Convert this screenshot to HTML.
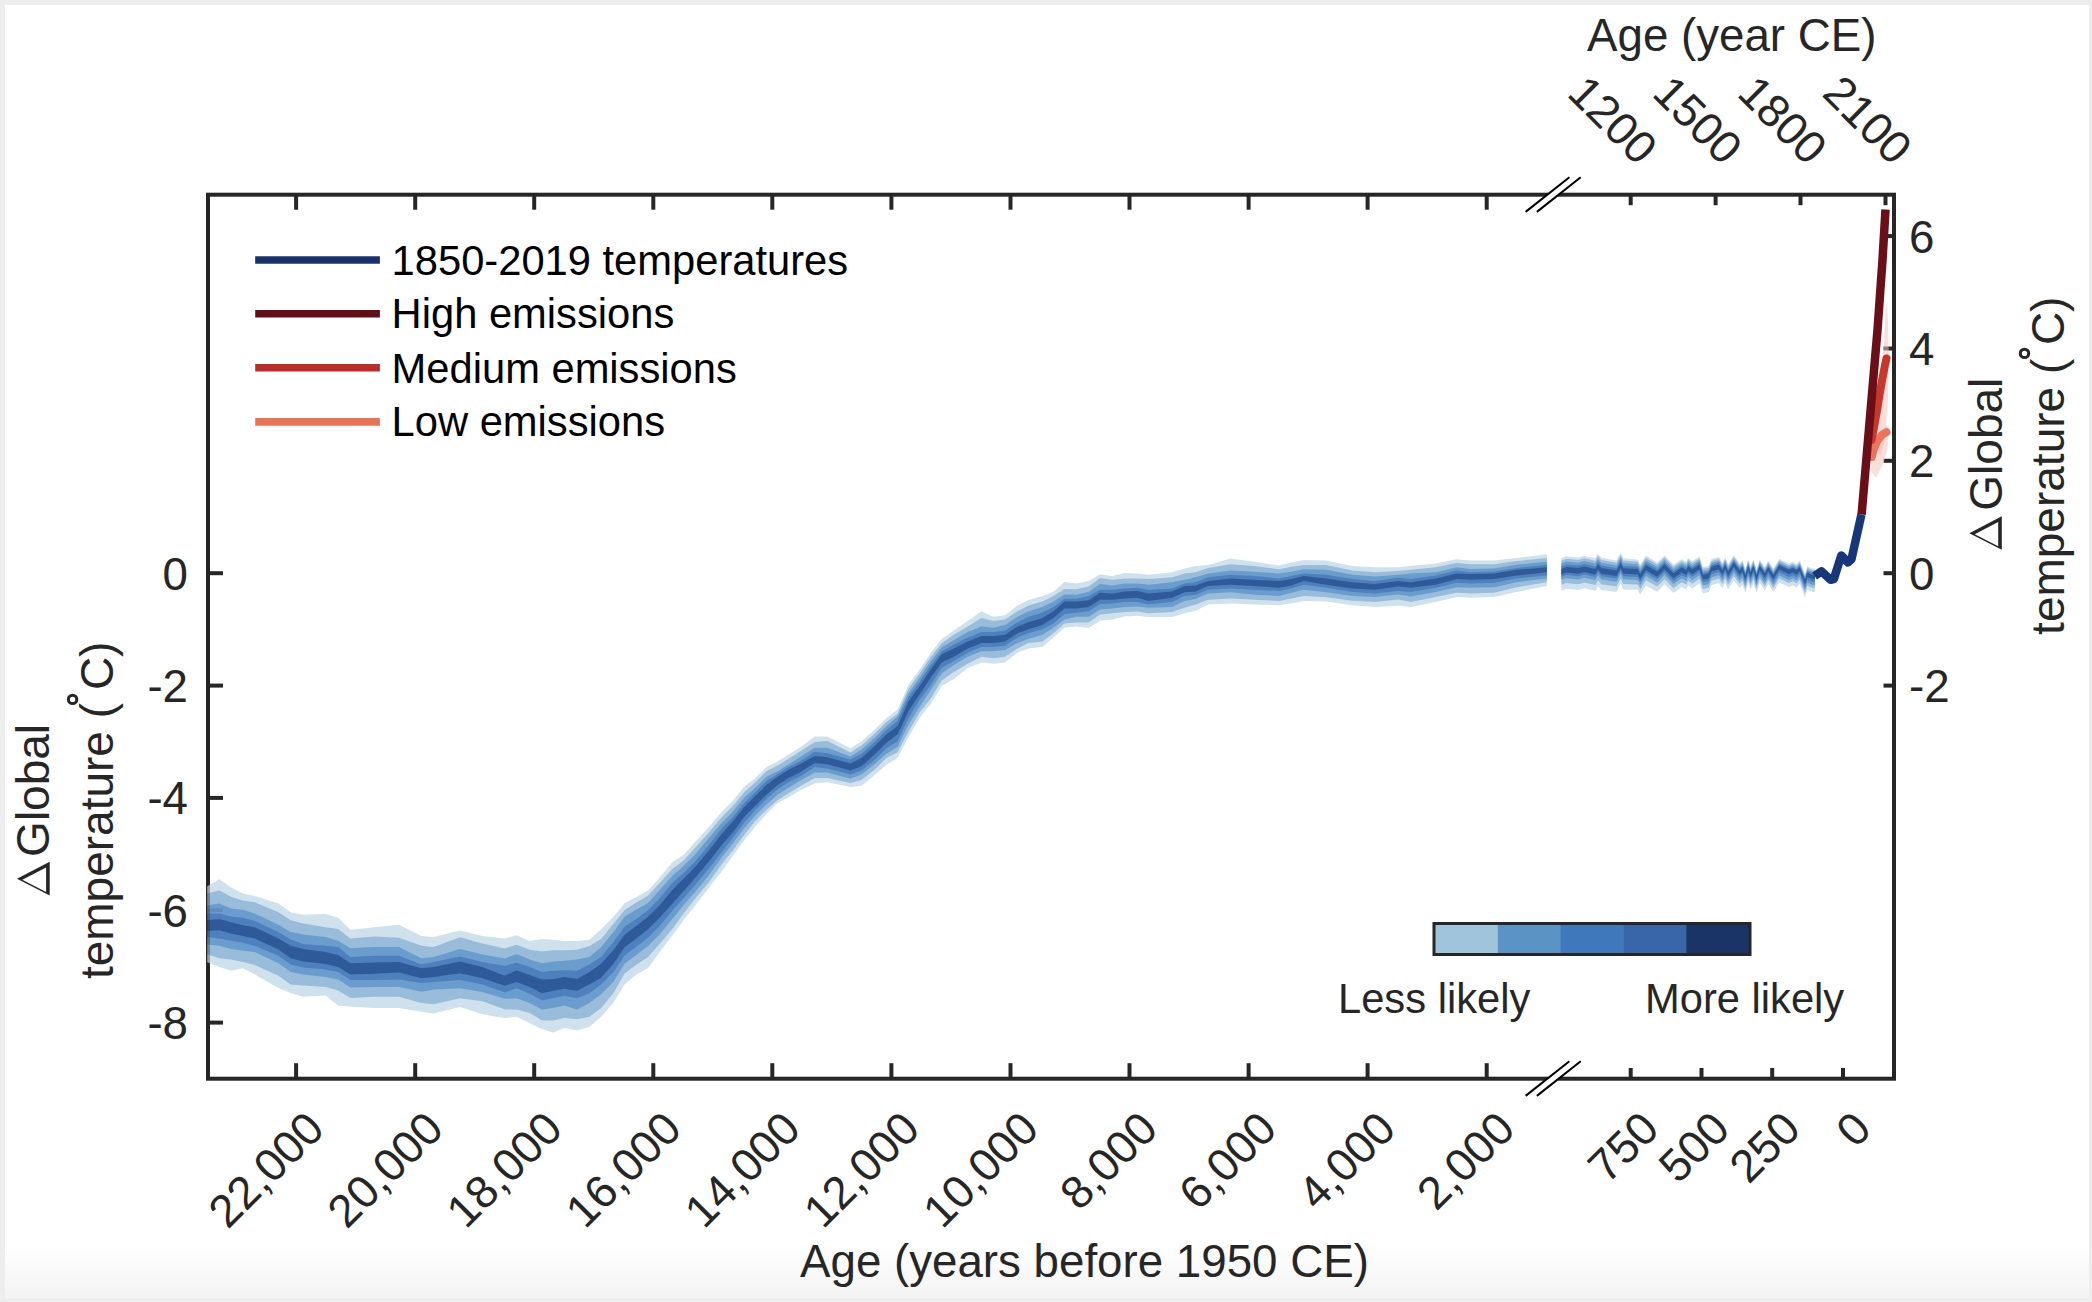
<!DOCTYPE html>
<html><head><meta charset="utf-8"><title>Global temperature</title>
<style>html,body{margin:0;padding:0;background:#fff;width:2092px;height:1302px;overflow:hidden}</style>
</head><body>
<svg width="2092" height="1302" viewBox="0 0 2092 1302" style="display:block"><rect x="0" y="0" width="2092" height="1302" fill="#ededed"/><defs><linearGradient id="bg" x1="0" y1="0" x2="0" y2="1"><stop offset="0" stop-color="#ffffff"/><stop offset="1" stop-color="#f3f3f3"/></linearGradient></defs><rect x="5" y="5" width="2084" height="1292.6" fill="#ffffff"/><rect x="5" y="1245" width="2084" height="52.6" fill="url(#bg)"/><g stroke="#262626" stroke-width="4" fill="none"><rect x="208.0" y="194.7" width="1686.0" height="884.0"/><line x1="208.0" y1="573.2" x2="223.0" y2="573.2"/><line x1="208.0" y1="685.6" x2="223.0" y2="685.6"/><line x1="208.0" y1="797.9" x2="223.0" y2="797.9"/><line x1="208.0" y1="910.3" x2="223.0" y2="910.3"/><line x1="208.0" y1="1022.6" x2="223.0" y2="1022.6"/><line x1="1894.0" y1="236.1" x2="1883.5" y2="236.1"/><line x1="1894.0" y1="348.5" x2="1883.5" y2="348.5"/><line x1="1894.0" y1="460.8" x2="1883.5" y2="460.8"/><line x1="1894.0" y1="573.2" x2="1883.5" y2="573.2"/><line x1="1894.0" y1="685.6" x2="1883.5" y2="685.6"/><line x1="296.1" y1="1078.7" x2="296.1" y2="1063.2"/><line x1="296.1" y1="194.7" x2="296.1" y2="209.7"/><line x1="415.2" y1="1078.7" x2="415.2" y2="1063.2"/><line x1="415.2" y1="194.7" x2="415.2" y2="209.7"/><line x1="534.2" y1="1078.7" x2="534.2" y2="1063.2"/><line x1="534.2" y1="194.7" x2="534.2" y2="209.7"/><line x1="653.3" y1="1078.7" x2="653.3" y2="1063.2"/><line x1="653.3" y1="194.7" x2="653.3" y2="209.7"/><line x1="772.3" y1="1078.7" x2="772.3" y2="1063.2"/><line x1="772.3" y1="194.7" x2="772.3" y2="209.7"/><line x1="891.4" y1="1078.7" x2="891.4" y2="1063.2"/><line x1="891.4" y1="194.7" x2="891.4" y2="209.7"/><line x1="1010.5" y1="1078.7" x2="1010.5" y2="1063.2"/><line x1="1010.5" y1="194.7" x2="1010.5" y2="209.7"/><line x1="1129.5" y1="1078.7" x2="1129.5" y2="1063.2"/><line x1="1129.5" y1="194.7" x2="1129.5" y2="209.7"/><line x1="1248.6" y1="1078.7" x2="1248.6" y2="1063.2"/><line x1="1248.6" y1="194.7" x2="1248.6" y2="209.7"/><line x1="1367.6" y1="1078.7" x2="1367.6" y2="1063.2"/><line x1="1367.6" y1="194.7" x2="1367.6" y2="209.7"/><line x1="1486.7" y1="1078.7" x2="1486.7" y2="1063.2"/><line x1="1486.7" y1="194.7" x2="1486.7" y2="209.7"/><line x1="1630.7" y1="1078.7" x2="1630.7" y2="1068.0"/><line x1="1701.5" y1="1078.7" x2="1701.5" y2="1068.0"/><line x1="1772.2" y1="1078.7" x2="1772.2" y2="1068.0"/><line x1="1843.0" y1="1078.7" x2="1843.0" y2="1068.0"/><line x1="1630.7" y1="194.7" x2="1630.7" y2="205.2"/><line x1="1715.6" y1="194.7" x2="1715.6" y2="205.2"/><line x1="1800.5" y1="194.7" x2="1800.5" y2="205.2"/><line x1="1885.5" y1="194.7" x2="1885.5" y2="205.2"/></g><polygon points="206.5,886.7 219.3,879.3 231.1,887.4 242.9,893.6 254.7,896.1 278.4,903.5 290.8,912.2 303.2,914.7 325.6,914.1 338.1,917.8 350.5,929.7 374.1,927.2 399.0,924.7 421.4,935.9 433.8,937.1 460.0,930.4 482.4,936.0 504.8,938.5 516.6,935.3 529.7,940.9 542.1,939.1 553.3,939.7 564.5,940.9 576.9,940.9 589.4,939.7 601.1,929.3 613.5,916.8 624.6,903.0 635.6,897.5 648.1,890.5 659.2,878.1 673.0,861.5 684.1,854.6 695.1,842.1 708.9,826.9 722.1,811.3 733.2,800.2 744.3,786.4 755.3,778.1 766.4,767.0 777.5,761.5 788.5,754.6 799.6,747.7 814.8,736.6 827.2,736.6 850.4,748.3 861.5,741.4 875.3,728.9 886.4,717.9 897.5,709.6 908.5,684.7 919.6,669.5 930.7,652.9 941.7,639.0 953.8,630.5 967.7,620.9 981.5,611.2 993.3,616.7 1005.0,615.3 1017.5,605.6 1028.5,600.1 1042.4,596.0 1053.4,591.8 1064.5,582.1 1076.3,583.6 1088.7,580.9 1100.0,574.2 1112.4,576.0 1124.9,572.9 1137.3,573.6 1148.5,574.8 1172.1,572.3 1184.5,568.6 1195.7,566.1 1208.1,564.9 1230.5,558.6 1254.1,561.7 1279.0,565.5 1291.4,562.4 1303.8,559.9 1326.2,560.5 1352.4,566.0 1374.8,567.3 1398.4,567.3 1410.8,566.0 1435.7,563.6 1456.8,559.2 1470.5,560.4 1494.1,560.4 1516.5,558.0 1546.9,554.2 1546.9,585.9 1516.5,592.1 1494.1,597.1 1470.5,597.7 1456.8,597.1 1435.7,602.1 1410.8,607.1 1398.4,605.8 1374.8,607.1 1352.4,605.2 1326.2,601.5 1303.8,600.9 1291.4,603.4 1279.0,605.2 1254.1,604.6 1230.5,603.4 1208.1,604.6 1195.7,610.8 1184.5,613.3 1172.1,617.1 1148.5,617.1 1137.3,615.8 1124.9,616.4 1112.4,619.5 1100.0,620.8 1088.7,627.9 1076.3,626.5 1064.5,627.8 1053.4,637.5 1042.4,647.1 1028.5,648.5 1017.5,652.7 1005.0,662.4 993.3,663.7 981.5,662.4 967.7,667.9 953.8,678.9 941.7,686.1 930.7,704.1 919.6,717.9 908.5,737.2 897.5,758.0 886.4,764.9 875.3,774.6 861.5,785.7 850.4,787.0 827.2,782.2 814.8,783.6 799.6,790.5 788.5,797.5 777.5,803.0 766.4,814.1 755.3,826.5 744.3,840.3 733.2,855.5 722.1,870.8 708.9,887.8 695.1,905.8 684.1,919.6 673.0,934.8 659.2,952.8 648.1,968.0 635.6,974.9 624.6,984.6 613.5,1002.6 601.1,1017.0 589.4,1026.8 576.9,1030.5 564.5,1028.0 553.3,1032.4 542.1,1029.3 529.7,1023.0 516.6,1016.8 504.8,1018.1 482.4,1014.3 460.0,1006.9 433.8,1013.6 421.4,1011.7 399.0,1008.0 374.1,1008.0 350.5,1006.8 338.1,1005.5 325.6,995.6 303.2,996.8 290.8,993.1 278.4,988.1 254.7,974.4 242.9,968.2 231.1,970.7 219.3,967.0 206.5,962.0" fill="#d0e1ee"/><polygon points="206.5,893.6 219.3,890.5 231.1,896.7 242.9,900.4 254.7,902.3 278.4,912.2 290.8,920.3 303.2,923.4 325.6,927.2 338.1,929.0 350.5,938.4 374.1,936.5 399.0,937.7 421.4,945.8 433.8,947.1 460.0,937.2 482.4,943.4 504.8,948.4 516.6,944.7 529.7,949.7 542.1,951.5 553.3,950.3 564.5,950.3 576.9,949.7 589.4,945.9 601.1,938.9 613.5,923.7 624.6,909.9 635.6,903.0 648.1,895.4 659.2,883.6 673.0,868.4 684.1,860.1 695.1,847.7 708.9,832.4 722.1,816.8 733.2,805.8 744.3,791.9 755.3,782.2 766.4,771.2 777.5,765.6 788.5,758.7 799.6,751.8 814.8,742.1 827.2,740.7 850.4,752.5 861.5,745.5 875.3,733.1 886.4,722.0 897.5,713.7 908.5,688.8 919.6,673.6 930.7,657.0 941.7,643.2 953.8,634.7 967.7,626.4 981.5,618.1 993.3,620.9 1005.0,619.5 1017.5,611.2 1028.5,605.6 1042.4,601.5 1053.4,596.0 1064.5,589.0 1076.3,589.2 1088.7,586.4 1100.0,577.9 1112.4,579.8 1124.9,578.5 1137.3,578.5 1148.5,579.1 1172.1,577.3 1184.5,573.6 1195.7,572.3 1208.1,568.0 1230.5,564.2 1254.1,566.1 1279.0,569.2 1291.4,566.7 1303.8,564.9 1326.2,564.9 1352.4,570.4 1374.8,572.3 1398.4,571.0 1410.8,569.8 1435.7,567.3 1456.8,562.9 1470.5,564.2 1494.1,564.2 1516.5,561.1 1546.9,558.0 1546.9,582.2 1516.5,587.2 1494.1,592.8 1470.5,593.4 1456.8,592.8 1435.7,597.1 1410.8,602.1 1398.4,599.6 1374.8,602.1 1352.4,600.8 1326.2,597.2 1303.8,595.9 1291.4,598.4 1279.0,600.9 1254.1,599.7 1230.5,598.4 1208.1,599.7 1195.7,604.6 1184.5,607.7 1172.1,612.1 1148.5,613.3 1137.3,611.5 1124.9,612.1 1112.4,613.3 1100.0,614.6 1088.7,622.4 1076.3,622.4 1064.5,623.6 1053.4,633.3 1042.4,641.6 1028.5,643.0 1017.5,648.5 1005.0,656.8 993.3,658.2 981.5,656.8 967.7,663.7 953.8,672.0 941.7,680.5 930.7,698.5 919.6,712.4 908.5,731.7 897.5,752.5 886.4,758.0 875.3,769.1 861.5,780.1 850.4,782.9 827.2,778.1 814.8,778.1 799.6,786.4 788.5,793.3 777.5,800.2 766.4,809.9 755.3,821.0 744.3,834.8 733.2,850.0 722.1,863.8 708.9,882.2 695.1,898.8 684.1,912.7 673.0,927.9 659.2,944.5 648.1,956.9 635.6,965.2 624.6,973.5 613.5,992.9 601.1,1008.0 589.4,1016.8 576.9,1019.3 564.5,1018.1 553.3,1020.5 542.1,1020.5 529.7,1013.1 516.6,1009.4 504.8,1009.4 482.4,1001.3 460.0,998.2 433.8,1004.3 421.4,1003.0 399.0,996.8 374.1,996.8 350.5,998.1 338.1,990.6 325.6,986.9 303.2,985.6 290.8,984.4 278.4,975.7 254.7,965.1 242.9,962.0 231.1,959.5 219.3,958.3 206.5,953.9" fill="#98bcda"/><polygon points="206.5,905.4 219.3,903.5 231.1,908.5 242.9,909.8 254.7,913.5 278.4,924.7 290.8,932.1 303.2,934.6 325.6,937.1 338.1,940.8 350.5,948.3 374.1,947.1 399.0,947.1 421.4,958.3 433.8,957.0 460.0,949.0 482.4,954.6 504.8,958.4 516.6,954.0 529.7,959.6 542.1,963.3 553.3,961.5 564.5,960.8 576.9,959.6 589.4,957.1 601.1,947.2 613.5,932.0 624.6,916.8 635.6,909.9 648.1,903.0 659.2,890.5 673.0,875.3 684.1,865.6 695.1,854.6 708.9,838.0 722.1,822.4 733.2,811.3 744.3,797.5 755.3,787.8 766.4,776.7 777.5,771.2 788.5,764.3 799.6,757.3 814.8,747.7 827.2,747.7 850.4,756.6 861.5,749.7 875.3,737.2 886.4,726.2 897.5,716.5 908.5,693.0 919.6,677.8 930.7,661.2 941.7,647.3 953.8,640.2 967.7,631.9 981.5,626.4 993.3,627.8 1005.0,625.0 1017.5,616.7 1028.5,611.2 1042.4,607.0 1053.4,601.5 1064.5,594.6 1076.3,594.7 1088.7,591.9 1100.0,584.1 1112.4,585.4 1124.9,583.5 1137.3,583.5 1148.5,584.7 1172.1,582.3 1184.5,579.8 1195.7,577.3 1208.1,573.6 1230.5,570.4 1254.1,571.7 1279.0,573.6 1291.4,571.7 1303.8,569.2 1326.2,569.8 1352.4,574.7 1374.8,576.6 1398.4,574.7 1410.8,573.5 1435.7,572.3 1456.8,567.3 1470.5,569.1 1494.1,568.5 1516.5,564.8 1546.9,561.7 1546.9,578.5 1516.5,582.2 1494.1,587.2 1470.5,587.8 1456.8,587.2 1435.7,592.1 1410.8,596.5 1398.4,594.6 1374.8,597.1 1352.4,595.9 1326.2,592.2 1303.8,589.7 1291.4,592.8 1279.0,595.9 1254.1,594.7 1230.5,592.2 1208.1,593.4 1195.7,599.0 1184.5,600.9 1172.1,607.1 1148.5,607.7 1137.3,606.5 1124.9,607.1 1112.4,608.4 1100.0,609.6 1088.7,616.8 1076.3,616.8 1064.5,619.5 1053.4,627.8 1042.4,634.7 1028.5,638.8 1017.5,643.0 1005.0,649.9 993.3,651.3 981.5,651.3 967.7,656.8 953.8,665.1 941.7,673.6 930.7,690.2 919.6,706.8 908.5,724.8 897.5,746.9 886.4,753.8 875.3,763.5 861.5,774.6 850.4,778.7 827.2,772.6 814.8,772.6 799.6,780.9 788.5,787.8 777.5,794.7 766.4,804.4 755.3,815.4 744.3,827.9 733.2,843.1 722.1,856.9 708.9,875.3 695.1,891.9 684.1,904.4 673.0,918.2 659.2,934.8 648.1,945.9 635.6,955.5 624.6,963.8 613.5,981.8 601.1,994.3 589.4,1003.1 576.9,1009.4 564.5,1005.6 553.3,1008.1 542.1,1009.4 529.7,1003.1 516.6,998.2 504.8,998.8 482.4,991.9 460.0,988.2 433.8,989.4 421.4,991.8 399.0,986.9 374.1,986.9 350.5,987.5 338.1,979.4 325.6,976.9 303.2,974.4 290.8,971.9 278.4,963.2 254.7,952.0 242.9,950.8 231.1,948.9 219.3,945.8 206.5,944.6" fill="#6a9dcd"/><polygon points="206.5,913.5 219.3,913.5 231.1,916.6 242.9,917.8 254.7,920.9 278.4,932.1 290.8,939.6 303.2,944.0 325.6,945.8 338.1,947.1 350.5,957.0 374.1,955.8 399.0,955.8 421.4,964.5 433.8,962.0 460.0,956.5 482.4,962.1 504.8,965.8 516.6,962.7 529.7,967.1 542.1,972.0 553.3,970.8 564.5,970.2 576.9,970.8 589.4,964.6 601.1,956.9 613.5,941.7 624.6,926.5 635.6,919.6 648.1,909.9 659.2,898.8 673.0,882.2 684.1,872.6 695.1,861.5 708.9,844.9 722.1,827.9 733.2,816.8 744.3,803.0 755.3,791.9 766.4,780.9 777.5,773.9 788.5,767.0 799.6,761.5 814.8,751.8 827.2,753.2 850.4,759.4 861.5,753.8 875.3,741.4 886.4,730.3 897.5,720.7 908.5,697.1 919.6,681.9 930.7,665.3 941.7,651.5 953.8,644.4 967.7,637.5 981.5,631.9 993.3,631.9 1005.0,630.5 1017.5,622.2 1028.5,616.7 1042.4,612.6 1053.4,607.0 1064.5,598.7 1076.3,598.8 1088.7,596.1 1100.0,589.7 1112.4,589.7 1124.9,588.5 1137.3,587.8 1148.5,589.7 1172.1,588.5 1184.5,583.5 1195.7,582.3 1208.1,577.3 1230.5,574.8 1254.1,576.0 1279.0,578.5 1291.4,576.0 1303.8,573.6 1326.2,574.8 1352.4,579.1 1374.8,581.0 1398.4,577.8 1410.8,579.1 1435.7,575.4 1456.8,570.4 1470.5,572.3 1494.1,571.6 1516.5,567.9 1546.9,564.8 1546.9,575.4 1516.5,578.5 1494.1,582.8 1470.5,583.4 1456.8,582.8 1435.7,587.8 1410.8,592.1 1398.4,590.9 1374.8,593.4 1352.4,592.1 1326.2,587.8 1303.8,584.7 1291.4,588.5 1279.0,591.0 1254.1,589.7 1230.5,588.5 1208.1,589.7 1195.7,594.7 1184.5,595.9 1172.1,602.1 1148.5,604.6 1137.3,602.1 1124.9,602.1 1112.4,603.4 1100.0,604.0 1088.7,611.3 1076.3,612.7 1064.5,613.9 1053.4,623.6 1042.4,629.2 1028.5,633.3 1017.5,637.5 1005.0,645.8 993.3,647.1 981.5,647.1 967.7,652.7 953.8,661.0 941.7,668.1 930.7,684.7 919.6,699.9 908.5,717.9 897.5,741.4 886.4,748.3 875.3,759.4 861.5,770.4 850.4,774.6 827.2,768.4 814.8,767.0 799.6,776.7 788.5,782.2 777.5,789.2 766.4,798.8 755.3,809.9 744.3,822.4 733.2,837.6 722.1,851.4 708.9,868.4 695.1,885.0 684.1,897.5 673.0,909.9 659.2,926.5 648.1,937.6 635.6,947.2 624.6,955.5 613.5,972.1 601.1,984.6 589.4,993.2 576.9,998.2 564.5,995.7 553.3,998.2 542.1,1000.6 529.7,993.8 516.6,988.2 504.8,992.6 482.4,984.5 460.0,980.1 433.8,981.9 421.4,983.1 399.0,979.4 374.1,980.0 350.5,980.0 338.1,971.9 325.6,969.5 303.2,967.6 290.8,964.5 278.4,955.8 254.7,945.8 242.9,942.7 231.1,940.8 219.3,938.4 206.5,937.1" fill="#4e80bd"/><polygon points="206.5,920.3 219.3,919.1 231.1,922.2 242.9,925.3 254.7,927.2 278.4,938.4 290.8,945.8 303.2,948.9 325.6,952.0 338.1,955.1 350.5,963.2 374.1,962.6 399.0,962.0 421.4,968.2 433.8,967.0 460.0,961.5 482.4,967.1 504.8,975.8 516.6,970.2 529.7,975.1 542.1,979.5 553.3,978.9 564.5,977.0 576.9,978.9 589.4,972.0 601.1,963.8 613.5,950.0 624.6,934.8 635.6,926.5 648.1,916.8 659.2,905.8 673.0,889.2 684.1,878.1 695.1,867.0 708.9,850.4 722.1,833.4 733.2,821.0 744.3,807.1 755.3,796.1 766.4,785.0 777.5,776.7 788.5,769.8 799.6,764.3 814.8,756.0 827.2,757.3 850.4,763.5 861.5,758.0 875.3,745.5 886.4,734.5 897.5,726.2 908.5,701.3 919.6,686.1 930.7,669.5 941.7,654.3 953.8,648.5 967.7,641.6 981.5,636.1 993.3,636.1 1005.0,634.7 1017.5,626.4 1028.5,622.2 1042.4,618.1 1053.4,611.2 1064.5,601.5 1076.3,601.6 1088.7,600.2 1100.0,592.8 1112.4,593.4 1124.9,591.6 1137.3,591.0 1148.5,593.4 1172.1,591.6 1184.5,586.0 1195.7,585.4 1208.1,581.0 1230.5,578.5 1254.1,579.8 1279.0,581.0 1291.4,579.1 1303.8,576.0 1326.2,578.5 1352.4,582.2 1374.8,584.1 1398.4,581.0 1410.8,582.2 1435.7,578.5 1456.8,573.5 1470.5,574.1 1494.1,573.5 1516.5,569.8 1546.9,567.3 1546.9,572.3 1516.5,575.4 1494.1,579.1 1470.5,579.7 1456.8,579.1 1435.7,584.7 1410.8,587.8 1398.4,586.5 1374.8,589.7 1352.4,588.4 1326.2,584.7 1303.8,581.0 1291.4,585.4 1279.0,587.8 1254.1,586.0 1230.5,584.7 1208.1,586.0 1195.7,591.6 1184.5,592.2 1172.1,597.8 1148.5,600.9 1137.3,597.8 1124.9,598.4 1112.4,599.7 1100.0,599.7 1088.7,607.1 1076.3,608.5 1064.5,608.4 1053.4,618.1 1042.4,625.0 1028.5,629.2 1017.5,633.3 1005.0,641.6 993.3,643.0 981.5,643.0 967.7,648.5 953.8,656.8 941.7,662.6 930.7,677.8 919.6,694.4 908.5,711.0 897.5,734.5 886.4,742.8 875.3,753.8 861.5,766.3 850.4,770.4 827.2,764.3 814.8,762.9 799.6,772.6 788.5,778.1 777.5,785.0 766.4,794.7 755.3,805.8 744.3,816.8 733.2,832.0 722.1,844.5 708.9,861.5 695.1,878.1 684.1,890.5 673.0,903.0 659.2,918.2 648.1,929.3 635.6,938.9 624.6,947.2 613.5,963.8 601.1,977.7 589.4,984.5 576.9,990.7 564.5,988.8 553.3,990.7 542.1,993.2 529.7,987.0 516.6,982.0 504.8,985.7 482.4,978.3 460.0,973.3 433.8,976.9 421.4,978.2 399.0,972.6 374.1,973.8 350.5,974.4 338.1,967.0 325.6,963.9 303.2,961.4 290.8,958.3 278.4,949.6 254.7,938.4 242.9,935.9 231.1,933.4 219.3,930.3 206.5,930.9" fill="#2f5a9a"/><polygon points="1561.4,558.3 1566.2,556.3 1578.4,557.5 1584.1,555.8 1595.5,558.3 1597.9,553.4 1601.2,557.5 1616.6,560.4 1620.7,552.4 1623.1,558.2 1637.7,559.5 1640.2,564.4 1645.9,555.6 1657.2,562.5 1664.5,555.4 1673.5,564.6 1681.6,559.2 1686.5,561.7 1688.1,557.7 1692.2,561.1 1699.5,556.4 1702.9,566.9 1708.6,565.9 1711.5,559.1 1718.9,557.0 1722.4,562.8 1725.2,557.2 1728.1,564.2 1733.8,555.2 1739.6,563.4 1742.5,560.1 1745.3,568.7 1748.2,559.1 1750.5,566.0 1753.4,559.3 1756.5,569.1 1759.7,559.5 1764.8,566.9 1768.3,560.6 1773.4,568.6 1779.2,558.9 1788.9,563.5 1792.9,561.7 1796.4,564.0 1799.8,560.6 1805.0,573.8 1807.3,566.3 1812.5,568.6 1815.0,568.5 1815.0,592.0 1812.5,592.1 1807.3,589.8 1805.0,597.3 1799.8,584.1 1796.4,587.5 1792.9,585.2 1788.9,587.0 1779.2,582.4 1773.4,592.1 1768.3,584.1 1764.8,590.4 1759.7,583.0 1756.5,592.8 1753.4,583.2 1750.5,590.0 1748.2,583.3 1745.3,593.1 1742.5,584.5 1739.6,588.0 1733.8,580.2 1728.1,589.5 1725.2,582.7 1722.4,588.5 1718.9,582.9 1711.5,585.3 1708.6,592.3 1702.9,593.6 1699.5,583.4 1692.2,588.4 1688.1,585.2 1686.5,589.4 1681.6,587.1 1673.5,592.9 1664.5,584.2 1657.2,591.7 1645.9,585.5 1640.2,594.7 1637.7,589.8 1623.1,589.4 1620.7,583.8 1616.6,592.0 1601.2,590.0 1597.9,585.9 1595.5,590.8 1584.1,588.3 1578.4,590.0 1566.2,588.8 1561.4,590.8" fill="#d0e1ee"/><polygon points="1561.4,560.7 1566.2,558.7 1578.4,559.9 1584.1,558.2 1595.5,560.7 1597.9,555.8 1601.2,559.9 1616.6,562.7 1620.7,554.7 1623.1,560.5 1637.7,561.7 1640.2,566.7 1645.9,557.8 1657.2,564.6 1664.5,557.5 1673.5,566.6 1681.6,561.2 1686.5,563.8 1688.1,559.7 1692.2,563.1 1699.5,558.4 1702.9,568.8 1708.6,567.9 1711.5,561.0 1718.9,558.9 1722.4,564.7 1725.2,559.1 1728.1,566.1 1733.8,557.0 1739.6,565.2 1742.5,561.8 1745.3,570.5 1748.2,560.9 1750.5,567.8 1753.4,561.0 1756.5,570.8 1759.7,561.2 1764.8,568.6 1768.3,562.3 1773.4,570.3 1779.2,560.6 1788.9,565.2 1792.9,563.4 1796.4,565.7 1799.8,562.3 1805.0,575.5 1807.3,568.0 1812.5,570.3 1815.0,570.2 1815.0,588.0 1812.5,588.1 1807.3,585.8 1805.0,593.3 1799.8,580.1 1796.4,583.5 1792.9,581.2 1788.9,583.0 1779.2,578.4 1773.4,588.1 1768.3,580.1 1764.8,586.4 1759.7,579.0 1756.5,588.8 1753.4,579.1 1750.5,585.9 1748.2,579.2 1745.3,588.9 1742.5,580.4 1739.6,583.8 1733.8,575.9 1728.1,585.2 1725.2,578.3 1722.4,584.1 1718.9,578.4 1711.5,580.8 1708.6,587.8 1702.9,589.0 1699.5,578.7 1692.2,583.7 1688.1,580.5 1686.5,584.6 1681.6,582.3 1673.5,588.0 1664.5,579.2 1657.2,586.6 1645.9,580.3 1640.2,589.4 1637.7,584.5 1623.1,584.0 1620.7,578.3 1616.6,586.5 1601.2,584.3 1597.9,580.2 1595.5,585.1 1584.1,582.6 1578.4,584.3 1566.2,583.1 1561.4,585.1" fill="#98bcda"/><polygon points="1561.4,563.6 1566.2,561.6 1578.4,562.8 1584.1,561.1 1595.5,563.6 1597.9,558.7 1601.2,562.8 1616.6,565.5 1620.7,557.5 1623.1,563.2 1637.7,564.3 1640.2,569.3 1645.9,560.4 1657.2,567.1 1664.5,559.9 1673.5,569.0 1681.6,563.6 1686.5,566.1 1688.1,562.0 1692.2,565.4 1699.5,560.6 1702.9,571.0 1708.6,570.0 1711.5,563.2 1718.9,561.0 1722.4,566.8 1725.2,561.1 1728.1,568.1 1733.8,559.0 1739.6,567.1 1742.5,563.8 1745.3,572.4 1748.2,562.8 1750.5,569.6 1753.4,562.9 1756.5,572.6 1759.7,563.0 1764.8,570.4 1768.3,564.1 1773.4,572.1 1779.2,562.4 1788.9,567.0 1792.9,565.2 1796.4,567.5 1799.8,564.1 1805.0,577.3 1807.3,569.8 1812.5,572.1 1815.0,572.0 1815.0,585.0 1812.5,585.1 1807.3,582.8 1805.0,590.3 1799.8,577.1 1796.4,580.5 1792.9,578.2 1788.9,580.0 1779.2,575.4 1773.4,585.1 1768.3,577.1 1764.8,583.4 1759.7,576.0 1756.5,585.7 1753.4,576.0 1750.5,582.8 1748.2,576.0 1745.3,585.7 1742.5,577.2 1739.6,580.6 1733.8,572.6 1728.1,581.8 1725.2,574.9 1722.4,580.6 1718.9,574.9 1711.5,577.3 1708.6,584.2 1702.9,585.3 1699.5,575.0 1692.2,579.9 1688.1,576.6 1686.5,580.7 1681.6,578.3 1673.5,584.0 1664.5,575.1 1657.2,582.4 1645.9,576.0 1640.2,585.0 1637.7,580.1 1623.1,579.3 1620.7,573.6 1616.6,581.7 1601.2,579.4 1597.9,575.3 1595.5,580.2 1584.1,577.7 1578.4,579.4 1566.2,578.2 1561.4,580.2" fill="#6a9dcd"/><polygon points="1561.4,566.4 1566.2,564.4 1578.4,565.6 1584.1,563.9 1595.5,566.4 1597.9,561.5 1601.2,565.6 1616.6,568.2 1620.7,560.1 1623.1,565.9 1637.7,566.8 1640.2,571.8 1645.9,562.8 1657.2,569.4 1664.5,562.2 1673.5,571.2 1681.6,565.7 1686.5,568.2 1688.1,564.1 1692.2,567.4 1699.5,562.6 1702.9,573.0 1708.6,571.9 1711.5,565.1 1718.9,562.8 1722.4,568.6 1725.2,562.9 1728.1,569.8 1733.8,560.7 1739.6,568.8 1742.5,565.4 1745.3,574.0 1748.2,564.4 1750.5,571.2 1753.4,564.4 1756.5,574.2 1759.7,564.5 1764.8,571.9 1768.3,565.6 1773.4,573.6 1779.2,563.9 1788.9,568.5 1792.9,566.7 1796.4,569.0 1799.8,565.6 1805.0,578.8 1807.3,571.3 1812.5,573.6 1815.0,573.5 1815.0,582.0 1812.5,582.1 1807.3,579.8 1805.0,587.3 1799.8,574.1 1796.4,577.5 1792.9,575.2 1788.9,577.0 1779.2,572.4 1773.4,582.1 1768.3,574.1 1764.8,580.4 1759.7,573.0 1756.5,582.7 1753.4,573.0 1750.5,579.8 1748.2,573.0 1745.3,582.7 1742.5,574.1 1739.6,577.5 1733.8,569.5 1728.1,578.8 1725.2,571.9 1722.4,577.6 1718.9,571.9 1711.5,574.2 1708.6,581.1 1702.9,582.2 1699.5,571.9 1692.2,576.8 1688.1,573.5 1686.5,577.6 1681.6,575.2 1673.5,580.9 1664.5,572.0 1657.2,579.3 1645.9,572.8 1640.2,581.8 1637.7,576.9 1623.1,576.2 1620.7,570.5 1616.6,578.6 1601.2,576.2 1597.9,572.1 1595.5,577.0 1584.1,574.5 1578.4,576.2 1566.2,575.0 1561.4,577.0" fill="#4e80bd"/><polygon points="1561.4,568.9 1566.2,566.9 1578.4,568.1 1584.1,566.4 1595.5,568.9 1597.9,564.0 1601.2,568.1 1616.6,570.6 1620.7,562.5 1623.1,568.2 1637.7,569.0 1640.2,574.0 1645.9,565.0 1657.2,571.5 1664.5,564.2 1673.5,573.2 1681.6,567.6 1686.5,570.0 1688.1,565.9 1692.2,569.2 1699.5,564.4 1702.9,574.7 1708.6,573.6 1711.5,566.7 1718.9,564.4 1722.4,570.2 1725.2,564.5 1728.1,571.4 1733.8,562.2 1739.6,570.2 1742.5,566.8 1745.3,575.4 1748.2,565.8 1750.5,572.6 1753.4,565.8 1756.5,575.5 1759.7,565.8 1764.8,573.2 1768.3,566.9 1773.4,574.9 1779.2,565.2 1788.9,569.8 1792.9,568.0 1796.4,570.3 1799.8,566.9 1805.0,580.1 1807.3,572.6 1812.5,574.9 1815.0,574.8 1815.0,579.2 1812.5,579.3 1807.3,577.0 1805.0,584.5 1799.8,571.3 1796.4,574.7 1792.9,572.4 1788.9,574.2 1779.2,569.6 1773.4,579.3 1768.3,571.3 1764.8,577.6 1759.7,570.2 1756.5,579.9 1753.4,570.2 1750.5,577.0 1748.2,570.2 1745.3,580.0 1742.5,571.4 1739.6,574.8 1733.8,566.8 1728.1,576.0 1725.2,569.1 1722.4,574.8 1718.9,569.2 1711.5,571.5 1708.6,578.4 1702.9,579.5 1699.5,569.2 1692.2,574.2 1688.1,570.9 1686.5,575.0 1681.6,572.6 1673.5,578.2 1664.5,569.4 1657.2,576.7 1645.9,570.2 1640.2,579.2 1637.7,574.4 1623.1,573.6 1620.7,567.9 1616.6,576.0 1601.2,573.7 1597.9,569.6 1595.5,574.5 1584.1,572.0 1578.4,573.7 1566.2,572.5 1561.4,574.5" fill="#2f5a9a"/><line x1="208.0" y1="880" x2="208.0" y2="1040" stroke="#262626" stroke-width="4" opacity="0.35"/><line x1="208.0" y1="910.3" x2="223.0" y2="910.3" stroke="#262626" stroke-width="4" opacity="0.12"/><rect x="206.0" y="880" width="1.2" height="160" fill="#262626"/><path d="M1874,430 L1880,390 L1884,345 L1886,300 L1888,320 L1889,360 L1888,400 L1885,440 L1880,460 Z" fill="#f4c4bc" opacity="0.55"/><path d="M1870,470 L1874,446 L1880,432 L1887,425 L1888,445 L1884,462 L1876,478 Z" fill="#f4c4bc" opacity="0.55"/><polyline points="1871.8,457.0 1873.6,449.7 1877.2,441.0 1882.3,434.5 1886.5,432.2" fill="none" stroke="#e9765b" stroke-width="8" stroke-linecap="round" stroke-linejoin="round" /><polyline points="1871.5,440.0 1873.5,430.0 1877.4,408.0 1880.3,390.0 1883.1,375.0 1885.0,365.0 1886.5,358.5" fill="none" stroke="#c8372c" stroke-width="8" stroke-linecap="round" stroke-linejoin="round" /><polyline points="1861.6,514.6 1877.5,330.0 1882.5,260.0 1885.5,209.5" fill="none" stroke="#6a0f18" stroke-width="8.5" stroke-linecap="butt" stroke-linejoin="round" /><polyline points="1814.6,576.0 1821.5,571.4 1830.7,579.8 1833.8,579.1 1841.3,555.5 1848.0,562.5 1851.5,559.2 1861.4,514.6" fill="none" stroke="#173779" stroke-width="8.5" stroke-linecap="butt" stroke-linejoin="round" /><polygon points="1548,190.7 1557.8,190.7 1557.8,198.7 1548,198.7" fill="#fff"/><polygon points="1525.6,211.9 1569.4,177.2 1580.7,177.2 1536.9,211.9" fill="#fff"/><line x1="1525.6" y1="211.9" x2="1569.4" y2="177.2" stroke="#000" stroke-width="2"/><line x1="1536.9" y1="211.9" x2="1580.7" y2="177.2" stroke="#000" stroke-width="2"/><polygon points="1548,1074.7 1557.8,1074.7 1557.8,1082.7 1548,1082.7" fill="#fff"/><polygon points="1525.6,1095.9 1569.4,1061.2 1580.7,1061.2 1536.9,1095.9" fill="#fff"/><line x1="1525.6" y1="1095.9" x2="1569.4" y2="1061.2" stroke="#000" stroke-width="2"/><line x1="1536.9" y1="1095.9" x2="1580.7" y2="1061.2" stroke="#000" stroke-width="2"/><text x="188" y="573.2" dy="0.36em" text-anchor="end" style="font-family:'Liberation Sans',sans-serif;font-size:45.7px" fill="#262626">0</text><text x="188" y="685.6" dy="0.36em" text-anchor="end" style="font-family:'Liberation Sans',sans-serif;font-size:45.7px" fill="#262626">-2</text><text x="188" y="797.9" dy="0.36em" text-anchor="end" style="font-family:'Liberation Sans',sans-serif;font-size:45.7px" fill="#262626">-4</text><text x="188" y="910.3" dy="0.36em" text-anchor="end" style="font-family:'Liberation Sans',sans-serif;font-size:45.7px" fill="#262626">-6</text><text x="188" y="1022.6" dy="0.36em" text-anchor="end" style="font-family:'Liberation Sans',sans-serif;font-size:45.7px" fill="#262626">-8</text><text x="1909" y="236.1" dy="0.36em" style="font-family:'Liberation Sans',sans-serif;font-size:45.7px" fill="#262626">6</text><text x="1909" y="348.5" dy="0.36em" style="font-family:'Liberation Sans',sans-serif;font-size:45.7px" fill="#262626">4</text><text x="1909" y="460.8" dy="0.36em" style="font-family:'Liberation Sans',sans-serif;font-size:45.7px" fill="#262626">2</text><text x="1909" y="573.2" dy="0.36em" style="font-family:'Liberation Sans',sans-serif;font-size:45.7px" fill="#262626">0</text><text x="1909" y="685.6" dy="0.36em" style="font-family:'Liberation Sans',sans-serif;font-size:45.7px" fill="#262626">-2</text><text x="326.6" y="1131.2" text-anchor="end" transform="rotate(-45 326.6 1131.2)" style="font-family:'Liberation Sans',sans-serif;font-size:45.7px" fill="#262626">22,000</text><text x="445.7" y="1131.2" text-anchor="end" transform="rotate(-45 445.7 1131.2)" style="font-family:'Liberation Sans',sans-serif;font-size:45.7px" fill="#262626">20,000</text><text x="564.7" y="1131.2" text-anchor="end" transform="rotate(-45 564.7 1131.2)" style="font-family:'Liberation Sans',sans-serif;font-size:45.7px" fill="#262626">18,000</text><text x="683.8" y="1131.2" text-anchor="end" transform="rotate(-45 683.8 1131.2)" style="font-family:'Liberation Sans',sans-serif;font-size:45.7px" fill="#262626">16,000</text><text x="802.8" y="1131.2" text-anchor="end" transform="rotate(-45 802.8 1131.2)" style="font-family:'Liberation Sans',sans-serif;font-size:45.7px" fill="#262626">14,000</text><text x="921.9" y="1131.2" text-anchor="end" transform="rotate(-45 921.9 1131.2)" style="font-family:'Liberation Sans',sans-serif;font-size:45.7px" fill="#262626">12,000</text><text x="1041.0" y="1131.2" text-anchor="end" transform="rotate(-45 1041.0 1131.2)" style="font-family:'Liberation Sans',sans-serif;font-size:45.7px" fill="#262626">10,000</text><text x="1160.0" y="1131.2" text-anchor="end" transform="rotate(-45 1160.0 1131.2)" style="font-family:'Liberation Sans',sans-serif;font-size:45.7px" fill="#262626">8,000</text><text x="1279.1" y="1131.2" text-anchor="end" transform="rotate(-45 1279.1 1131.2)" style="font-family:'Liberation Sans',sans-serif;font-size:45.7px" fill="#262626">6,000</text><text x="1398.1" y="1131.2" text-anchor="end" transform="rotate(-45 1398.1 1131.2)" style="font-family:'Liberation Sans',sans-serif;font-size:45.7px" fill="#262626">4,000</text><text x="1517.2" y="1131.2" text-anchor="end" transform="rotate(-45 1517.2 1131.2)" style="font-family:'Liberation Sans',sans-serif;font-size:45.7px" fill="#262626">2,000</text><text x="1661.2" y="1131.2" text-anchor="end" transform="rotate(-45 1661.2 1131.2)" style="font-family:'Liberation Sans',sans-serif;font-size:45.7px" fill="#262626">750</text><text x="1732.0" y="1131.2" text-anchor="end" transform="rotate(-45 1732.0 1131.2)" style="font-family:'Liberation Sans',sans-serif;font-size:45.7px" fill="#262626">500</text><text x="1802.7" y="1131.2" text-anchor="end" transform="rotate(-45 1802.7 1131.2)" style="font-family:'Liberation Sans',sans-serif;font-size:45.7px" fill="#262626">250</text><text x="1873.5" y="1131.2" text-anchor="end" transform="rotate(-45 1873.5 1131.2)" style="font-family:'Liberation Sans',sans-serif;font-size:45.7px" fill="#262626">0</text><text x="1637.7" y="166.9" text-anchor="end" transform="rotate(45 1637.7 166.9)" style="font-family:'Liberation Sans',sans-serif;font-size:45.7px" fill="#262626">1200</text><text x="1722.6" y="166.9" text-anchor="end" transform="rotate(45 1722.6 166.9)" style="font-family:'Liberation Sans',sans-serif;font-size:45.7px" fill="#262626">1500</text><text x="1807.5" y="166.9" text-anchor="end" transform="rotate(45 1807.5 166.9)" style="font-family:'Liberation Sans',sans-serif;font-size:45.7px" fill="#262626">1800</text><text x="1892.5" y="166.9" text-anchor="end" transform="rotate(45 1892.5 166.9)" style="font-family:'Liberation Sans',sans-serif;font-size:45.7px" fill="#262626">2100</text><text x="800" y="1276.8" style="font-family:'Liberation Sans',sans-serif;font-size:45.7px" fill="#262626">Age (years before 1950 CE)</text><text x="1587" y="51.1" style="font-family:'Liberation Sans',sans-serif;font-size:45.7px" fill="#262626">Age (year CE)</text><path d="M17.0,878.7L49.7,861.8L49.7,895.6ZM22.3,879.8L46.1,892.1L46.1,867.5Z" fill="#262626" fill-rule="evenodd"/><text transform="translate(48.9,856.9) rotate(-90)" x="0" y="0" style="font-family:'Liberation Sans',sans-serif;font-size:46px" fill="#262626">Global</text><text transform="translate(112.6,979.1) rotate(-90)" x="0" y="0" style="font-family:'Liberation Sans',sans-serif;font-size:46px" fill="#262626">temperature (</text><circle cx="72.6" cy="699.4" r="4.2" fill="none" stroke="#262626" stroke-width="3"/><text transform="translate(112.6,690.1) rotate(-90)" x="0" y="0" style="font-family:'Liberation Sans',sans-serif;font-size:46px" fill="#262626">C)</text><path d="M1969.3,533.2L2001.8,516.3L2001.8,549.8ZM1974.7,534.2L1998.2,546.3L1998.2,522.0Z" fill="#262626" fill-rule="evenodd"/><text transform="translate(2002.0,510.7) rotate(-90)" x="0" y="0" style="font-family:'Liberation Sans',sans-serif;font-size:46px" fill="#262626">Global</text><text transform="translate(2064.0,634.9) rotate(-90)" x="0" y="0" style="font-family:'Liberation Sans',sans-serif;font-size:46px" fill="#262626">temperature (</text><circle cx="2024.5" cy="353.4" r="4.2" fill="none" stroke="#262626" stroke-width="3"/><text transform="translate(2064.0,345.1) rotate(-90)" x="0" y="0" style="font-family:'Liberation Sans',sans-serif;font-size:46px" fill="#262626">C)</text><line x1="255.2" y1="260.0" x2="379.9" y2="260.0" stroke="#1a3068" stroke-width="7.6"/><text x="391.6" y="274.8" style="font-family:'Liberation Sans',sans-serif;font-size:41.7px" fill="#000">1850-2019 temperatures</text><line x1="255.2" y1="313.8" x2="379.9" y2="313.8" stroke="#5f0f17" stroke-width="7.6"/><text x="391.6" y="328.3" style="font-family:'Liberation Sans',sans-serif;font-size:41.7px" fill="#000">High emissions</text><line x1="255.2" y1="367.7" x2="379.9" y2="367.7" stroke="#b92d2b" stroke-width="7.6"/><text x="391.6" y="382.9" style="font-family:'Liberation Sans',sans-serif;font-size:41.7px" fill="#000">Medium emissions</text><line x1="255.2" y1="421.9" x2="379.9" y2="421.9" stroke="#e87458" stroke-width="7.6"/><text x="391.6" y="436.1" style="font-family:'Liberation Sans',sans-serif;font-size:41.7px" fill="#000">Low emissions</text><rect x="1435.0" y="924" width="63.3" height="30" fill="#a1c4dd"/><rect x="1497.8" y="924" width="63.3" height="30" fill="#5b93c5"/><rect x="1560.6" y="924" width="63.3" height="30" fill="#3f79bb"/><rect x="1623.4" y="924" width="63.3" height="30" fill="#3966a9"/><rect x="1686.2" y="924" width="63.3" height="30" fill="#1a3467"/><rect x="1434" y="923.5" width="316" height="31" fill="none" stroke="#262626" stroke-width="3"/><text x="1338" y="1013.1" style="font-family:'Liberation Sans',sans-serif;font-size:41.7px" fill="#262626">Less likely</text><text x="1645" y="1013.1" style="font-family:'Liberation Sans',sans-serif;font-size:41.7px" fill="#262626">More likely</text></svg>
</body></html>
